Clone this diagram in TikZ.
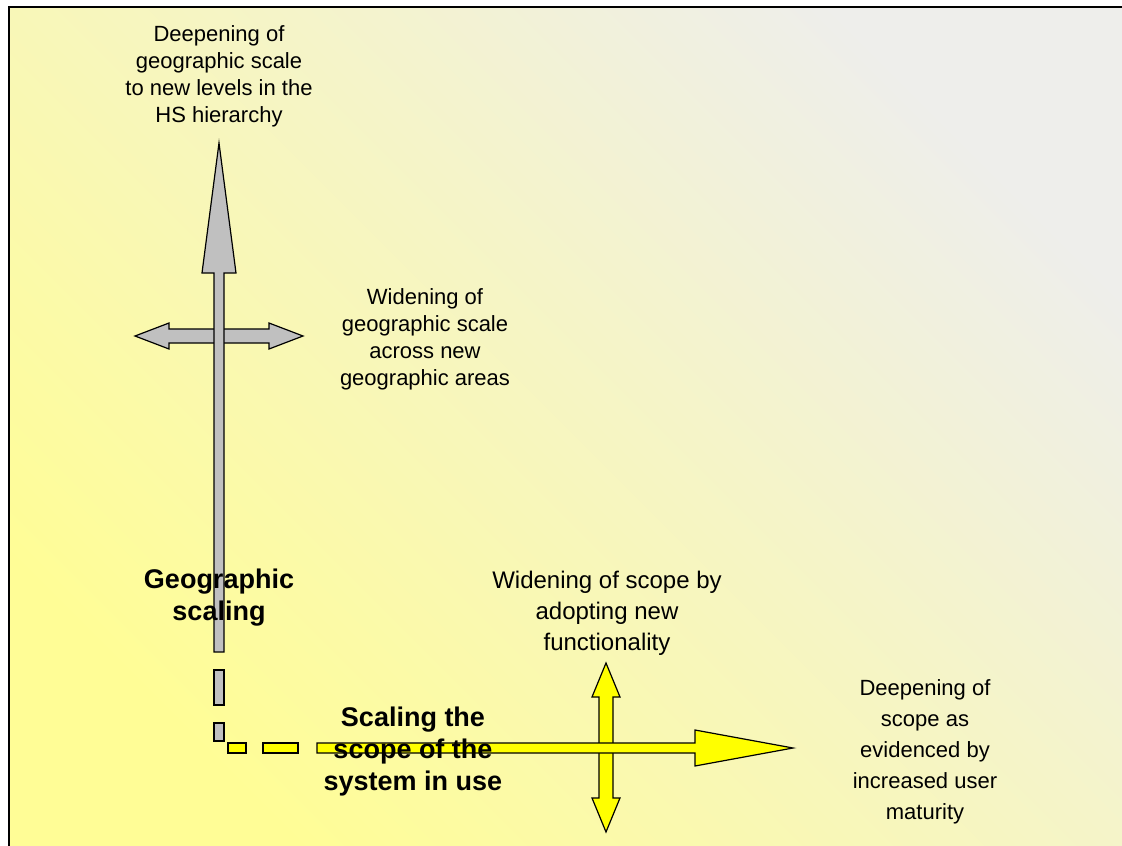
\documentclass[tikz,border=0pt]{standalone}
\usepackage{fontspec}
\setmainfont{Liberation Sans}
\begin{document}
\begin{tikzpicture}[x=1pt,y=-1pt,
  grayarrow/.style={fill=arrowgray,draw=black,line width=1.2pt,line join=miter},
  yellowarrow/.style={fill=arrowyellow,draw=black,line width=1.2pt,line join=miter},
  smalllabel/.style={align=center,font=\fontsize{22}{27}\selectfont},
  midlabel/.style={align=center,font=\fontsize{22}{31}\selectfont},
  boldlabel/.style={align=center,font=\fontsize{27}{32}\selectfont\bfseries}]
\definecolor{arrowgray}{RGB}{192,192,192}
\definecolor{arrowyellow}{RGB}{255,255,0}
\definecolor{bgyellow}{RGB}{255,253,150}
\definecolor{bggray}{RGB}{238,238,235}
\useasboundingbox (0,0) rectangle (1122,846);
\fill[white] (0,0) rectangle (1122,846);
% slide background: yellow towards the lower left, pale grey towards the upper right
\shade[bottom color=bgyellow,top color=bggray,shading angle=-45] (9,7) rectangle (1122,846);
\draw[line width=2.6pt] (9,846) -- (9,7) -- (1122,7);

% geographic widening: horizontal double arrow
\draw[grayarrow] (135,336) -- (169,323) -- (169,329) -- (269,329) -- (269,323)
  -- (303,336) -- (269,349) -- (269,343) -- (169,343) -- (169,349) -- cycle;
% geographic deepening: vertical arrow
\draw[grayarrow] (214,652) -- (214,273) -- (202,273) -- (219,143) -- (236,273)
  -- (224,273) -- (224,652) -- cycle;
\draw[grayarrow] (214,670) rectangle (224,705);
\draw[grayarrow] (214,723) rectangle (224,741);

% scope widening: vertical double arrow
\draw[yellowarrow] (606,663) -- (620,697) -- (613,697) -- (613,798) -- (620,798)
  -- (606,832) -- (592,798) -- (599,798) -- (599,697) -- (592,697) -- cycle;
% scope deepening: horizontal arrow
\draw[yellowarrow] (228,743) rectangle (246,753);
\draw[yellowarrow] (263,743) rectangle (298,753);
\draw[yellowarrow] (317,743) -- (695,743) -- (695,730) -- (793,748) -- (695,766)
  -- (695,753) -- (317,753) -- cycle;

\node[smalllabel] (deepgeo) at (219,76) {Deepening of\\geographic scale\\to new levels in the\\HS hierarchy};
\node[smalllabel] (widegeo) at (425,339) {Widening of\\geographic scale\\across new\\geographic areas};
\node[boldlabel] (geoscaling) at (219,598) {Geographic\\scaling};
\node[midlabel,font=\fontsize{24}{31}\selectfont] (widescope) at (607,613) {Widening of scope by\\adopting new\\functionality};
\node[boldlabel] (scopescaling) at (413,752) {Scaling the\\scope of the\\system in use};
\node[midlabel] (deepscope) at (925,752) {Deepening of\\scope as\\evidenced by\\increased user\\maturity};
\end{tikzpicture}
\end{document}
